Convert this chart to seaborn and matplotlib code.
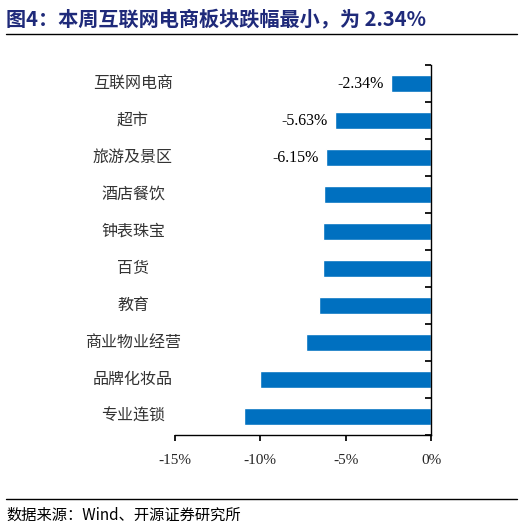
import matplotlib
matplotlib.use("Agg")
import matplotlib.pyplot as plt
import matplotlib.transforms as mtrans
import seaborn as sns
import pandas as pd

categories = ["互联网电商", "超市", "旅游及景区", "酒店餐饮", "钟表珠宝", "百货", "教育", "商业物业经营", "品牌化妆品", "专业连锁"]
values = [-2.34, -5.63, -6.15, -6.27, -6.33, -6.33, -6.55, -7.3, -10.0, -10.95]
labeled = {0: "-2.34%", 1: "-5.63%", 2: "-6.15%"}
xticks = [-15, -10, -5, 0]

sns.set_theme(style="white")
plt.rcParams['font.family'] = ['Noto Sans CJK SC', 'DejaVu Sans']

df = pd.DataFrame({"cat": categories, "val": values})
fig = plt.figure(figsize=(5.22, 5.30), dpi=100)
ax = fig.add_axes([175/522, 95/530, 256/522, 370/530])
sns.barplot(data=df, x="val", y="cat", color="#0070C0", saturation=1, width=0.45, ax=ax)
ax.set_xlim(-15, 0)
ax.set_xticks(xticks)
ax.set_xticklabels([f"{t}%" for t in xticks], fontsize=11, family=['Liberation Serif', 'DejaVu Serif'])
ax.tick_params(axis='x', direction='out', length=4, color='black', bottom=True, pad=10)
ax.set_xlabel(""); ax.set_ylabel("")
for s in ["top", "left"]:
    ax.spines[s].set_visible(False)
for s in ["bottom", "right"]:
    ax.spines[s].set_color("black"); ax.spines[s].set_linewidth(1)
ax.yaxis.tick_right()
ax.tick_params(axis='y', right=True, length=4, direction='in', color='black')
ax.set_yticks([i - 0.5 for i in range(len(categories) + 1)])
ax.set_yticklabels([])
ax.set_ylim(len(categories) - 0.5, -0.5)

trans = mtrans.blended_transform_factory(fig.transFigure, ax.transData)
for i, c in enumerate(categories):
    ax.text(133/522, i, c, transform=trans, ha='center', va='center', fontsize=11.5,
            color='#333333', fontweight='light')
for i, t in labeled.items():
    ax.text(values[i] - 0.45, i, t, ha='right', va='center', fontsize=11.5,
            family=['Liberation Serif', 'DejaVu Serif'], color='black')

fig.text(0.012, 0.965, "图4：本周互联网电商板块跌幅最小，为 2.34%", fontsize=14.5, fontweight='bold',
         color='#1F2A7A', va='center', ha='left')
fig.add_artist(plt.Line2D([0.012, 0.99], [0.935, 0.935], color='black', lw=1, transform=fig.transFigure))
fig.add_artist(plt.Line2D([0.012, 0.99], [0.058, 0.058], color='black', lw=1, transform=fig.transFigure))
fig.text(0.012, 0.027, "数据来源：Wind、开源证券研究所", fontsize=11, color='black', va='center', ha='left')
fig.savefig("out.png", dpi=100)
